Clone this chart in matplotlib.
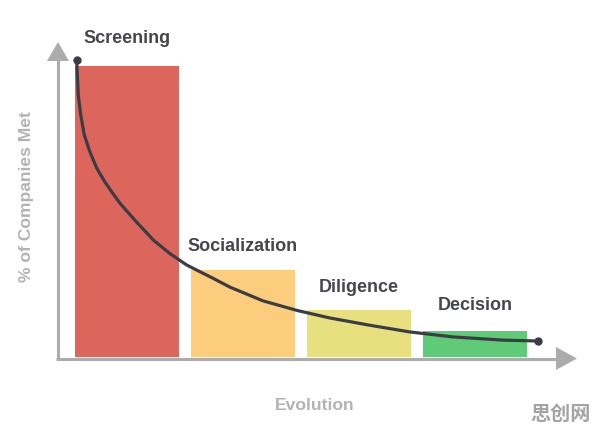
import matplotlib
matplotlib.use("Agg")
import matplotlib.pyplot as plt
from matplotlib.patches import Polygon
from matplotlib.transforms import Affine2D

# ---- data ----
stages = ["Screening", "Socialization", "Diligence", "Decision"]
values = [100, 30, 16, 9]
bar_colors = ["#dd665c", "#fccd7c", "#e8e07f", "#5fcb78"]

curve_x = [-0.434, -0.428, -0.420, -0.399, -0.368, -0.319, -0.261, -0.190, -0.118,
           -0.060, 0.084, 0.227, 0.371, 0.515, 0.744, 0.888, 1.172, 1.466,
           1.750, 2.095, 2.440, 2.810, 3.241, 3.543]
curve_y = [102.1, 96.9, 90.0, 83.2, 76.3, 70.4, 64.9, 60.1, 56.0,
           52.8, 46.3, 40.2, 35.5, 31.6, 27.0, 24.0, 19.3, 16.0,
           13.4, 10.9, 8.6, 6.9, 5.8, 5.5]

y_label = "% of Companies Met"
x_label = "Evolution"
watermark = "思创网"

# ---- figure ----
W, H = 596, 434
fig = plt.figure(figsize=(W / 100, H / 100), dpi=100)
ax = fig.add_axes([0, 0, 1, 1])
ax.set_xlim(-1.0948, 4.0431)
ax.set_ylim(-26.46, 122.68)
ax.axis("off")

# pixel transform (origin top-left)
px = Affine2D().scale(1 / W, -1 / H).translate(0, 1) + fig.transFigure

axis_col = "#acacac"
# y axis
ax.plot([58, 58], [360, 58], color=axis_col, lw=2.2, transform=px, solid_capstyle="butt")
fig.patches.append(Polygon([[58, 42], [47, 61], [69, 61]], closed=True,
                           facecolor=axis_col, edgecolor="none", transform=px))
# x axis
ax.plot([56, 558], [358.5, 358.5], color=axis_col, lw=2.2, transform=px, solid_capstyle="butt")
fig.patches.append(Polygon([[577, 358.5], [556, 347], [556, 370]], closed=True,
                           facecolor=axis_col, edgecolor="none", transform=px))

# bars
xs = list(range(len(stages)))
ax.bar(xs, values, width=0.9, color=bar_colors, zorder=2)

# curve
curve_col = "#3c3d44"
ax.plot(curve_x, curve_y, color=curve_col, lw=2.3, zorder=3,
        solid_capstyle="round", solid_joinstyle="round")
ax.plot([curve_x[0], curve_x[-1]], [curve_y[0], curve_y[-1]], "o",
        color=curve_col, ms=5, zorder=4)

# stage labels
offsets = [27, 23, 23, 25]
for x, v, s, off in zip(xs, values, stages, offsets):
    ax.annotate(s, (x, v), xytext=(0, off), textcoords="offset pixels",
                ha="center", va="center", fontsize=13, fontweight="bold",
                color="#46464d", family="Liberation Sans", zorder=5)

# axis titles
label_col = "#b3b3b3"
fig.text(27 / W, 1 - 197 / H, y_label, rotation=90, ha="center", va="center",
         fontsize=12.6, fontweight="bold", color=label_col, family="Liberation Sans")
fig.text(315 / W, 1 - 406 / H, x_label, ha="center", va="center",
         fontsize=12.6, fontweight="bold", color=label_col, family="Liberation Sans")

# watermark
fig.text(560 / W, 1 - 413 / H, watermark, ha="center", va="center",
         fontsize=14.5, fontweight="bold", color="#a3a3a3",
         family=["Noto Sans CJK SC", "DejaVu Sans"])

fig.savefig("out.png", dpi=100)
